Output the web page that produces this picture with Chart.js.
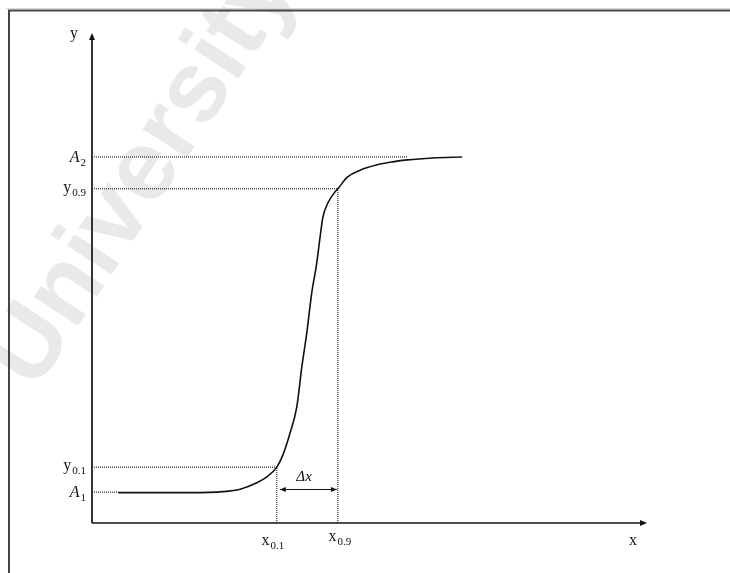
<!DOCTYPE html>
<html>
<head>
<meta charset="utf-8">
<script src="https://cdn.jsdelivr.net/npm/chart.js@4/dist/chart.umd.min.js"></script>
<style>
  html, body { margin: 0; padding: 0; background: #ffffff; }
  canvas { display: block; }
</style>
</head>
<body>
<canvas id="c" width="730" height="573"></canvas>
<script>
// ---- data (abstract units 0..100 on both axes) ----
const curveX = [4.7, 10.5, 17.7, 23.6, 26.7, 29.7, 31.5, 33.3, 34.4, 35.7, 36.9, 37.8, 38.7, 39.6, 40.5, 41.1, 41.6, 42.5, 43.8, 44.3, 46.0, 48.3, 51.4, 54.2, 56.8, 61.4, 66.7];
const curveY = [6.2, 6.2, 6.2, 6.4, 6.9, 8.2, 9.4, 11.4, 13.9, 18.4, 23.7, 31.8, 38.8, 47.0, 53.1, 58.4, 62.4, 65.3, 67.6, 68.2, 70.6, 72.0, 73.1, 73.7, 74.1, 74.5, 74.7];

const levelMain = ['A', 'y', 'y', 'A'];
const levelSub  = ['1', '0.1', '0.9', '2'];
const levelY    = [6.3, 11.4, 68.2, 74.7];     // A1, y0.1, y0.9, A2
const levelEndX = [4.7, 33.3, 44.3, 56.8];

const markMain = ['x', 'x'];
const markSub  = ['0.1', '0.9'];
const markX    = [33.3, 44.3];                 // x0.1, x0.9
const markTopY = [11.4, 68.2];

const deltaLabel = 'Δx';
const deltaY = 6.9;
const axisLabels = ['x', 'y'];
const watermark = 'University';

// ---- build datasets ----
const curveData = curveX.map((x, i) => ({ x: x, y: curveY[i] }));
const dotted = { borderColor: '#000', borderWidth: 1, borderDash: [1, 1], pointRadius: 0, fill: false, tension: 0 };
const datasets = [];
levelY.forEach((y, i) => {
  datasets.push(Object.assign({ data: [{ x: 0, y: y }, { x: levelEndX[i], y: y }] }, dotted));
});
markX.forEach((x, i) => {
  datasets.push(Object.assign({ data: [{ x: x, y: 0 }, { x: x, y: markTopY[i] }] }, dotted));
});
datasets.push({
  data: curveData, borderColor: '#111', borderWidth: 1.6, pointRadius: 0,
  fill: false, cubicInterpolationMode: 'monotone'
});

const SERIF = '"Liberation Serif", "DejaVu Serif", serif';

function drawSubLabel(ctx, main, sub, x, y, align, italic, mainSize, subSize) {
  const mf = (italic ? 'italic ' : '') + mainSize + 'px ' + SERIF;
  const sf = subSize + 'px ' + SERIF;
  ctx.font = mf; const w1 = ctx.measureText(main).width;
  ctx.font = sf; const w2 = ctx.measureText(sub).width;
  const total = w1 + 1 + w2;
  let x0 = x;
  if (align === 'right') x0 = x - total;
  else if (align === 'center') x0 = x - total / 2;
  ctx.textAlign = 'left';
  ctx.textBaseline = 'alphabetic';
  ctx.font = mf; ctx.fillText(main, x0, y);
  ctx.font = sf; ctx.fillText(sub, x0 + w1 + 1, y + 4);
}

const decor = {
  id: 'decor',
  beforeDraw(chart) {
    const ctx = chart.ctx;
    ctx.save();
    ctx.fillStyle = '#ffffff';
    ctx.fillRect(0, 0, chart.width, chart.height);
    // watermark
    ctx.translate(35, 392);
    ctx.rotate(-57 * Math.PI / 180);
    ctx.font = 'bold 100px "Liberation Sans", Arial, sans-serif';
    ctx.fillStyle = '#e9e9e9';
    ctx.textBaseline = 'alphabetic';
    ctx.fillText(watermark, 0, 0);
    ctx.restore();
    // frame
    ctx.save();
    ctx.strokeStyle = '#d8d8d8'; ctx.lineWidth = 1;
    ctx.beginPath(); ctx.moveTo(6, 8.5); ctx.lineTo(730, 8.5); ctx.stroke();
    ctx.strokeStyle = '#444'; ctx.lineWidth = 2;
    ctx.beginPath(); ctx.moveTo(9, 573); ctx.lineTo(9, 10.5); ctx.lineTo(730, 10.5); ctx.stroke();
    ctx.restore();
  },
  afterDatasetsDraw(chart) {
    const ctx = chart.ctx;
    const xs = chart.scales.x, ys = chart.scales.y;
    const ox = xs.getPixelForValue(0), oy = ys.getPixelForValue(0);
    const xe = xs.getPixelForValue(100), ye = ys.getPixelForValue(100);
    ctx.save();
    ctx.strokeStyle = '#111'; ctx.fillStyle = '#111'; ctx.lineWidth = 1.7;
    // axes
    ctx.beginPath(); ctx.moveTo(ox, oy); ctx.lineTo(ox, ye + 2); ctx.stroke();
    ctx.beginPath(); ctx.moveTo(ox, oy); ctx.lineTo(xe - 2, oy); ctx.stroke();
    // arrowheads
    ctx.beginPath(); ctx.moveTo(ox, ye); ctx.lineTo(ox - 3, ye + 7); ctx.lineTo(ox + 3, ye + 7); ctx.closePath(); ctx.fill();
    ctx.beginPath(); ctx.moveTo(xe, oy); ctx.lineTo(xe - 7, oy - 3); ctx.lineTo(xe - 7, oy + 3); ctx.closePath(); ctx.fill();
    // delta x double arrow
    const a = xs.getPixelForValue(markX[0]) + 3, b = xs.getPixelForValue(markX[1]) - 1;
    const dy = Math.round(ys.getPixelForValue(deltaY)) + 0.5;
    ctx.lineWidth = 1.2;
    ctx.beginPath(); ctx.moveTo(a, dy); ctx.lineTo(b, dy); ctx.stroke();
    ctx.beginPath(); ctx.moveTo(a, dy); ctx.lineTo(a + 6, dy - 2.5); ctx.lineTo(a + 6, dy + 2.5); ctx.closePath(); ctx.fill();
    ctx.beginPath(); ctx.moveTo(b, dy); ctx.lineTo(b - 6, dy - 2.5); ctx.lineTo(b - 6, dy + 2.5); ctx.closePath(); ctx.fill();
    ctx.restore();

    // texts
    ctx.save();
    ctx.fillStyle = '#111';
    ctx.textBaseline = 'alphabetic';
    ctx.font = '16px ' + SERIF;
    ctx.textAlign = 'center';
    ctx.fillText(axisLabels[0], xe - 14, oy + 22);
    ctx.fillText(axisLabels[1], ox - 18, ye + 5);
    // left level labels
    levelY.forEach((v, i) => {
      const py = ys.getPixelForValue(v);
      const italic = levelMain[i] === 'A';
      drawSubLabel(ctx, levelMain[i], levelSub[i], ox - 6, py + (italic ? 5 : 3), 'right', italic, 16, 11);
    });
    // bottom mark labels
    markX.forEach((v, i) => {
      const px = xs.getPixelForValue(v);
      drawSubLabel(ctx, markMain[i], markSub[i], px - 4 + i * 6, oy + 22 - i * 4, 'center', false, 16, 11);
    });
    // delta x label
    ctx.font = 'italic 15px ' + SERIF;
    ctx.textAlign = 'left';
    const dxp = (xs.getPixelForValue(markX[0]) + xs.getPixelForValue(markX[1])) / 2;
    ctx.fillText(deltaLabel, dxp - 11, ys.getPixelForValue(deltaY) - 8);
    ctx.restore();
  }
};

new Chart(document.getElementById('c'), {
  type: 'scatter',
  data: { datasets: datasets.map(d => Object.assign({ showLine: true }, d)) },
  options: {
    responsive: false,
    animation: false,
    devicePixelRatio: 1,
    layout: { padding: { left: 92, right: 83, top: 33, bottom: 50 } },
    plugins: { legend: { display: false }, tooltip: { enabled: false } },
    scales: {
      x: { type: 'linear', min: 0, max: 100, display: false },
      y: { type: 'linear', min: 0, max: 100, display: false }
    }
  },
  plugins: [decor]
});
</script>
</body>
</html>
